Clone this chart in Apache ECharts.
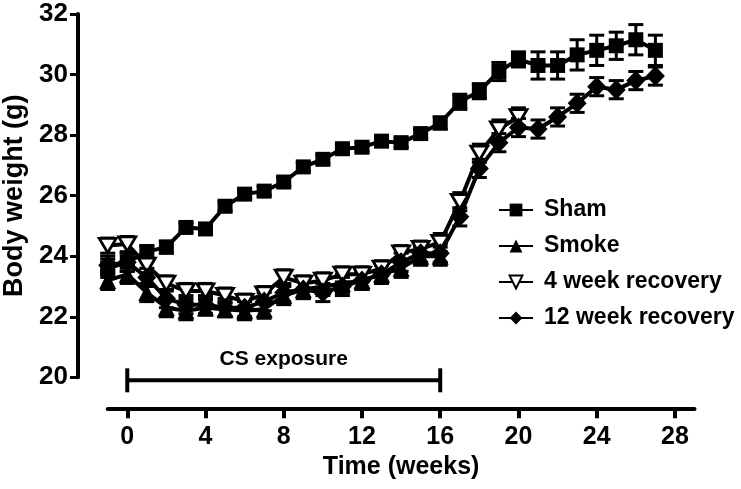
<!DOCTYPE html>
<html><head><meta charset="utf-8">
<script src="https://cdn.jsdelivr.net/npm/echarts@6/dist/echarts.min.js"></script>
<style>html,body{margin:0;padding:0;background:#fff}#c{width:741px;height:489px}</style>
</head><body><div id="c"></div>
<script>
// ---- data ----
const shamWeeks = [-1,0,1,2,3,4,5,6,7,8,9,10,11,12,13,14,15,16,17,18,19,20,21,22,23,24,25,26,27];
const shamMean  = [23.6,23.8,24.15,24.3,24.95,24.9,25.65,26.05,26.15,26.45,26.95,27.2,27.55,27.6,27.8,27.75,28.05,28.4,29.1,29.45,30.1,30.5,30.3,30.3,30.65,30.8,30.95,31.15,30.8];
const shamSEM   = [0.3,0.3,0.2,0.2,0.15,0.15,0.15,0.15,0.15,0.15,0.15,0.15,0.15,0.15,0.15,0.15,0.15,0.2,0.25,0.25,0.3,0.25,0.45,0.45,0.5,0.5,0.45,0.5,0.5];

const smokeWeeks = [-1,0,1,2,3,4,5,6,7,8,9,10,11,12,13,14,15,16];
const smokeMean  = [23.2,23.4,22.8,22.3,22.2,22.3,22.25,22.2,22.25,22.7,22.9,23.0,23.1,23.2,23.4,23.6,24.0,24.0];
const smokeSEM   = [0.3,0.3,0.3,0.3,0.3,0.25,0.25,0.3,0.3,0.3,0.3,0.3,0.3,0.3,0.3,0.3,0.3,0.3];

const rec4Weeks = [-1,0,1,2,3,4,5,6,7,8,9,10,11,12,13,14,15,16,17,18,19,20];
const rec4Mean  = [24.35,24.4,23.7,23.1,22.85,22.85,22.7,22.5,22.75,23.3,23.1,23.2,23.4,23.4,23.6,24.1,24.25,24.45,25.8,27.4,28.2,28.6];
const rec4SEM   = [0.25,0.25,0.25,0.25,0.25,0.25,0.25,0.25,0.25,0.25,0.25,0.25,0.25,0.25,0.25,0.25,0.25,0.3,0.3,0.3,0.3,0.3];

const rec12Weeks = [-1,0,1,2,3,4,5,6,7,8,9,10,11,12,13,14,15,16,17,18,19,20,21,22,23,24,25,26,27];
const rec12Mean  = [23.7,23.8,23.3,22.6,22.4,22.4,22.3,22.3,22.5,22.8,22.9,22.8,23.0,23.2,23.4,23.8,24.1,24.1,25.3,26.9,27.75,28.25,28.2,28.6,29.05,29.6,29.5,29.8,29.95];
const rec12SEM   = [0.3,0.3,0.3,0.3,0.3,0.3,0.3,0.3,0.3,0.3,0.3,0.3,0.3,0.3,0.3,0.3,0.3,0.3,0.3,0.3,0.3,0.3,0.3,0.3,0.3,0.3,0.3,0.3,0.3];

const seriesNames = ['Sham','Smoke','4 week recovery','12 week recovery'];
const xTicks = [0,4,8,12,16,20,24,28];
const exposure = [0,16];
const exposureLabel = 'CS exposure';
const xTitle = 'Time (weeks)';
const yTitle = 'Body weight (g)';

// ---- chart ----
const FONT = '"Liberation Sans", Arial, sans-serif';
const downTri = 'path://M0,0L20,0L10,17Z';

function pairs(xs, ys){ return xs.map((x,i)=>[x, ys[i]]); }
function errSeries(name, xs, m, s){
  return {
    type:'custom', name: name + ' err', silent:true, z:1, clip:false,
    data: xs.map((x,i)=>[x, m[i]-s[i], m[i]+s[i]]),
    encode:{x:0, y:[1,2]},
    renderItem:function(params, api){
      const x = api.value(0);
      const lo = api.coord([x, api.value(1)]);
      const hi = api.coord([x, api.value(2)]);
      const w = 7.5, st = {stroke:'#000', lineWidth:3};
      return {type:'group', children:[
        {type:'line', shape:{x1:lo[0],y1:lo[1],x2:hi[0],y2:hi[1]}, style:st},
        {type:'line', shape:{x1:lo[0]-w,y1:lo[1],x2:lo[0]+w,y2:lo[1]}, style:st},
        {type:'line', shape:{x1:hi[0]-w,y1:hi[1],x2:hi[0]+w,y2:hi[1]}, style:st}
      ]};
    }
  };
}
function lineSeries(name, xs, ys, symbol, size, fill){
  return {
    type:'line', name:name, data: pairs(xs, ys), z:3,
    symbol:symbol, symbolSize:size, symbolKeepAspect:true, showAllSymbol:true,
    lineStyle:{color:'#000', width:4},
    itemStyle:{color: fill, borderColor:'#000', borderWidth: fill === '#fff' ? 2.8 : 0},
    emphasis:{disabled:true}, animation:false
  };
}

const chart = echarts.init(document.getElementById('c'), null, {renderer:'canvas'});
chart.setOption({
  animation:false,
  backgroundColor:'#fff',
  grid:{left:107.7, right:46.5, top:14, bottom:111.7, containLabel:false, outerBoundsMode:'none'},
  xAxis:{
    type:'value', min:-1, max:29, offset:31,
    axisLine:{show:true, onZero:false, lineStyle:{color:'#000', width:4}},
    axisTick:{show:true, customValues:xTicks, length:10, lineStyle:{color:'#000', width:4}},
    axisLabel:{customValues:xTicks, color:'#000', fontSize:25, fontWeight:'bold', fontFamily:FONT, margin:16},
    splitLine:{show:false},
    name:xTitle, nameLocation:'middle', nameGap:46,
    nameTextStyle:{color:'#000', fontSize:25, fontWeight:'bold', fontFamily:FONT}
  },
  yAxis:{
    type:'value', min:20, max:32, interval:2, offset:29.7,
    axisLine:{show:true, onZero:false, lineStyle:{color:'#000', width:4}},
    axisTick:{show:true, length:8, lineStyle:{color:'#000', width:3}},
    axisLabel:{color:'#000', fontSize:26, fontWeight:'bold', fontFamily:FONT, margin:10},
    splitLine:{show:false},
    name:yTitle, nameLocation:'middle', nameGap:41,
    nameTextStyle:{color:'#000', fontSize:27, fontWeight:'bold', fontFamily:FONT}
  },
  legend:{
    orient:'vertical', left:493, top:193, itemWidth:34, itemHeight:16, itemGap:12,
    data:seriesNames,
    textStyle:{color:'#000', fontSize:23, fontWeight:'bold', fontFamily:FONT, lineHeight:24, padding:[0,0,0,6]}
  },
  series:[
    errSeries('Sham', shamWeeks, shamMean, shamSEM),
    errSeries('Smoke', smokeWeeks, smokeMean, smokeSEM),
    errSeries('4 week recovery', rec4Weeks, rec4Mean, rec4SEM),
    errSeries('12 week recovery', rec12Weeks, rec12Mean, rec12SEM),
    lineSeries('Sham', shamWeeks, shamMean, 'rect', 15, '#000'),
    lineSeries('Smoke', smokeWeeks, smokeMean, 'triangle', 17, '#000'),
    lineSeries('4 week recovery', rec4Weeks, rec4Mean, downTri, 17, '#fff'),
    lineSeries('12 week recovery', rec12Weeks, rec12Mean, 'diamond', [19,20], '#000'),
    {
      type:'custom', name:'exposure', silent:true, clip:false, z:2,
      data:[[exposure[0], exposure[1], 20]],
      encode:{x:[0,1], y:2},
      renderItem:function(params, api){
        const a = api.coord([api.value(0), api.value(2)]);
        const b = api.coord([api.value(1), api.value(2)]);
        const y = a[1] + 3;
        const st = {stroke:'#000', lineWidth:4};
        return {type:'group', children:[
          {type:'line', shape:{x1:a[0],y1:y,x2:b[0],y2:y}, style:st},
          {type:'line', shape:{x1:a[0],y1:y-12,x2:a[0],y2:y+12}, style:st},
          {type:'line', shape:{x1:b[0],y1:y-12,x2:b[0],y2:y+12}, style:st},
          {type:'text', x:(a[0]+b[0])/2, y:y-21, style:{text:exposureLabel, align:'center', verticalAlign:'middle',
            fontSize:21, fontWeight:'bold', fontFamily:FONT, fill:'#000'}}
        ]};
      }
    }
  ]
});
</script></body></html>
